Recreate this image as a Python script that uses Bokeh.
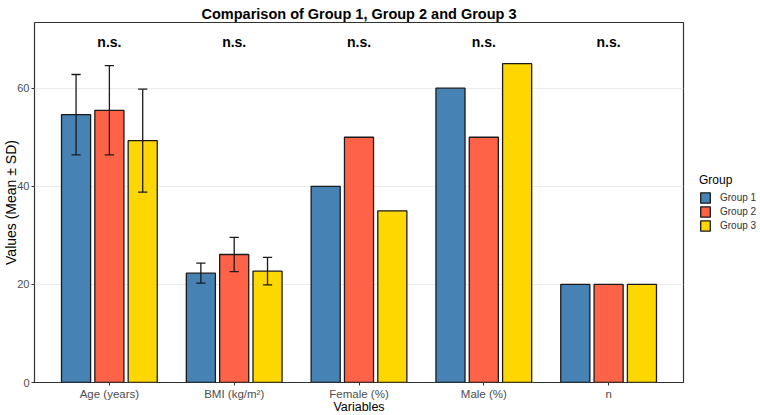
from bokeh.plotting import figure
from bokeh.models import ColumnDataSource, FactorRange, Range1d, Legend, LegendItem, FixedTicker
from bokeh.transform import dodge
from bokeh.core.properties import value
from bokeh.embed import file_html
from bokeh.resources import INLINE

# ---- data ----
categories = ["Age (years)", "BMI (kg/m²)", "Female (%)", "Male (%)", "n"]
groups = ["Group 1", "Group 2", "Group 3"]
g1_mean = [54.6, 22.3, 40, 60, 20]
g2_mean = [55.5, 26.1, 50, 50, 20]
g3_mean = [49.3, 22.7, 35, 65, 20]
g1_sd = [8.2, 2.05, None, None, None]
g2_sd = [9.1, 3.5, None, None, None]
g3_sd = [10.5, 2.8, None, None, None]
sig_labels = ["n.s.", "n.s.", "n.s.", "n.s.", "n.s."]
y_ticks = [0, 20, 40, 60]

colors = ["#4682B4", "#FF6347", "#FFD700"]
offsets = [-0.267, 0.0, 0.267]
bar_w = 0.233
cap_half = 0.037
FONT = "Liberation Sans"

p = figure(
    x_range=FactorRange(*categories, range_padding=0.1, range_padding_units="absolute"),
    y_range=Range1d(0, 73.4),
    frame_width=649, frame_height=360,
    min_border_left=34, min_border_right=77, min_border_top=22, min_border_bottom=33,
    output_backend="svg", toolbar_location=None,
    title="Comparison of Group 1, Group 2 and Group 3",
)
p.background_fill_color = "white"
p.border_fill_color = "white"
p.outline_line_color = "#333333"
p.outline_line_width = 1.2

p.title.align = "center"
p.title.text_font = FONT
p.title.text_font_size = "14.5px"
p.title.text_font_style = "bold"
p.title.text_color = "black"
p.title.offset = 0
p.title.standoff = 2

means = [g1_mean, g2_mean, g3_mean]
sds = [g1_sd, g2_sd, g3_sd]
legend_items = []
for gi, g in enumerate(groups):
    src = ColumnDataSource(dict(cat=categories, top=means[gi]))
    r = p.vbar(x=dodge("cat", offsets[gi], range=p.x_range), top="top", bottom=0,
               width=bar_w, source=src, fill_color=colors[gi],
               line_color="#1a1a1a", line_width=1.3)
    legend_items.append(LegendItem(label=g, renderers=[r]))

for gi in range(3):
    cats, lo, hi = [], [], []
    for c, m, s in zip(categories, means[gi], sds[gi]):
        if s is not None:
            cats.append(c)
            lo.append(m - s)
            hi.append(m + s)
    esrc = ColumnDataSource(dict(cat=cats, lo=lo, hi=hi))
    off = offsets[gi]
    p.segment(x0=dodge("cat", off, range=p.x_range), x1=dodge("cat", off, range=p.x_range),
              y0="lo", y1="hi", source=esrc, line_color="#1a1a1a", line_width=1.3)
    for key in ("lo", "hi"):
        p.segment(x0=dodge("cat", off - cap_half, range=p.x_range),
                  x1=dodge("cat", off + cap_half, range=p.x_range),
                  y0=key, y1=key, source=esrc, line_color="#1a1a1a", line_width=1.3)

tsrc = ColumnDataSource(dict(cat=categories, label=sig_labels, y=[69.4] * len(categories)))
p.text(x="cat", y="y", text="label", source=tsrc, text_align="center",
       text_baseline="middle", text_font=value(FONT), text_font_size="14px",
       text_font_style="bold", text_color="black")

# grid
p.xgrid.grid_line_color = None
p.ygrid.grid_line_color = "#EBEBEB"
p.ygrid.grid_line_width = 1
p.yaxis.ticker = FixedTicker(ticks=y_ticks)

for ax in (p.xaxis[0], p.yaxis[0]):
    ax.axis_line_color = None
    ax.major_tick_line_color = "#333333"
    ax.major_tick_out = 3
    ax.major_tick_in = 0
    ax.minor_tick_line_color = None
    ax.major_label_text_font = FONT
    ax.major_label_text_color = "#4D4D4D"
    ax.axis_label_text_font = FONT
    ax.axis_label_text_font_style = "normal"
    ax.axis_label_text_color = "black"

p.xaxis.major_label_text_font_size = "11.5px"
p.xaxis.major_label_standoff = 2
p.xaxis.axis_label_text_font_size = "12.5px"
p.xaxis.axis_label_standoff = -3
p.yaxis.major_label_text_font_size = "11px"
p.yaxis.major_label_standoff = 2
p.yaxis.axis_label_text_font_size = "14px"
p.yaxis.axis_label_standoff = -5

p.xaxis.axis_label = "Variables"
p.yaxis.axis_label = "Values (Mean ± SD)"

legend = Legend(items=legend_items, location=(16, 150), title="Group",
                orientation="vertical")
legend.title_text_font = FONT
legend.title_text_font_size = "12px"
legend.title_text_font_style = "normal"
legend.title_text_color = "black"
legend.title_standoff = 4
legend.label_text_font = FONT
legend.label_text_font_size = "10px"
legend.label_text_color = "#333333"
legend.glyph_width = 12
legend.glyph_height = 13
legend.label_height = 13
legend.label_standoff = 9
legend.spacing = 1
legend.padding = 0
legend.margin = 0
legend.border_line_color = None
legend.background_fill_alpha = 0
p.add_layout(legend, "right")

open("out.html", "w").write(file_html(p, INLINE))
